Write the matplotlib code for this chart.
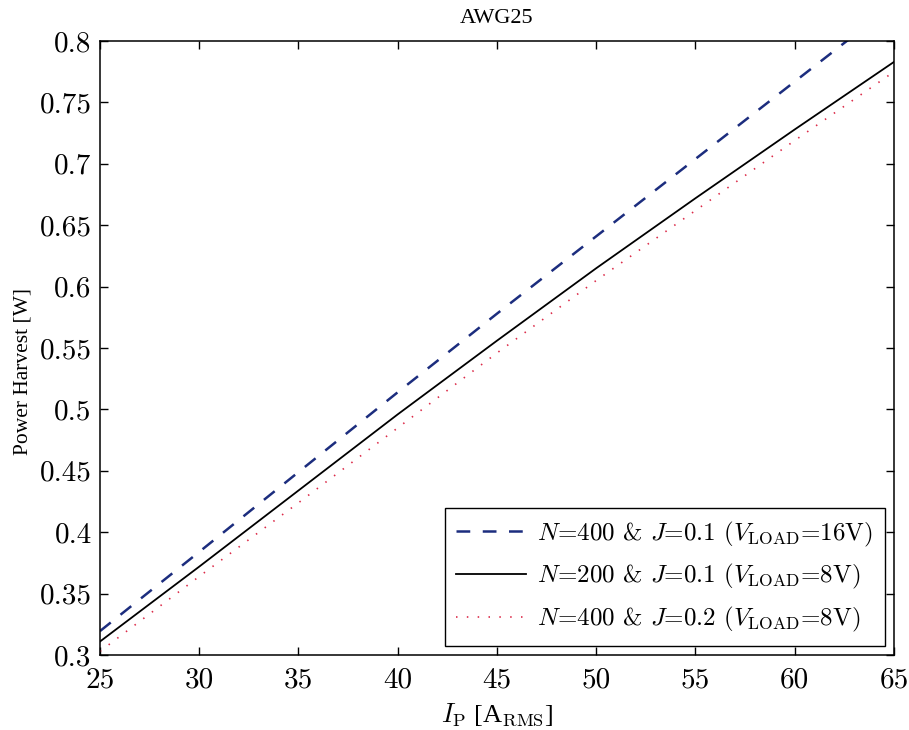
import matplotlib
matplotlib.use("Agg")
import matplotlib.pyplot as plt
from matplotlib.ticker import FixedLocator, FixedFormatter

plt.rcParams["mathtext.fontset"] = "cm"

# Primary current [A_RMS]
current = [25, 30, 35, 40, 45, 50, 55, 60, 65]

# Harvested power [W] for each coil / flux-density configuration
p_n400_j01 = [0.3195, 0.384, 0.449, 0.514, 0.578, 0.641, 0.704, 0.767, 0.830]
p_n200_j01 = [0.311, 0.372, 0.434, 0.496, 0.556, 0.615, 0.672, 0.728, 0.783]
p_n400_j02 = [0.303, 0.364, 0.424, 0.485, 0.546, 0.605, 0.662, 0.719, 0.775]

labels = [
    r"$N$=400 & $J$=0.1 ($V_{\mathrm{LOAD}}$=16V)",
    r"$N$=200 & $J$=0.1 ($V_{\mathrm{LOAD}}$=8V)",
    r"$N$=400 & $J$=0.2 ($V_{\mathrm{LOAD}}$=8V)",
]

x_ticks = [25, 30, 35, 40, 45, 50, 55, 60, 65]
x_ticklabels = ["25", "30", "35", "40", "45", "50", "55", "60", "65"]
y_ticks = [0.3, 0.35, 0.4, 0.45, 0.5, 0.55, 0.6, 0.65, 0.7, 0.75, 0.8]
y_ticklabels = ["0.3", "0.35", "0.4", "0.45", "0.5", "0.55", "0.6",
                "0.65", "0.7", "0.75", "0.8"]

fig = plt.figure(figsize=(9.09, 7.30), dpi=100)
ax = fig.add_axes([0.110, 0.1027, 0.8735, 0.8411])

ax.plot(current, p_n400_j01, color="#1c2d7e", lw=1.8,
        linestyle=(0, (5.5, 5.0)), label=labels[0])
ax.plot(current, p_n200_j01, color="black", lw=1.3, label=labels[1])
ax.plot(current, p_n400_j02, color="#dc2a48", lw=1.2,
        linestyle=(0, (0.9, 5.6)), label=labels[2])

ax.set_xlim(25, 65)
ax.set_ylim(0.3, 0.8)
ax.xaxis.set_major_locator(FixedLocator(x_ticks))
ax.xaxis.set_major_formatter(FixedFormatter(x_ticklabels))
ax.yaxis.set_major_locator(FixedLocator(y_ticks))
ax.yaxis.set_major_formatter(FixedFormatter(y_ticklabels))

ax.tick_params(direction="in", length=6, width=1.0, top=True, right=True,
               labelsize=21)
ax.tick_params(axis="x", pad=9)
ax.tick_params(axis="y", pad=6)
for lbl in ax.get_xticklabels() + ax.get_yticklabels():
    lbl.set_fontfamily("cmr10")
for sp in ax.spines.values():
    sp.set_linewidth(1.1)

ax.set_title("AWG25", fontfamily="Liberation Serif", fontsize=16, pad=13)
ax.set_ylabel("Power Harvest [W]", fontfamily="Liberation Serif",
              fontsize=15.5)
ax.yaxis.set_label_coords(-0.085, 0.461)
ax.set_xlabel(r"$I_{\mathrm{P}}$ [A$_{\mathrm{RMS}}$]",
              fontfamily="Liberation Serif", fontsize=19, labelpad=5)

leg = ax.legend(loc="lower right", fontsize=18, frameon=True, fancybox=False,
                edgecolor="black", framealpha=1.0, handlelength=2.8,
                handletextpad=0.45, labelspacing=0.55, borderpad=0.45,
                borderaxespad=0.38)
leg.get_frame().set_linewidth(1.0)
for t in leg.get_texts():
    t.set_fontfamily("cmr10")

fig.savefig("out.png", dpi=100)
